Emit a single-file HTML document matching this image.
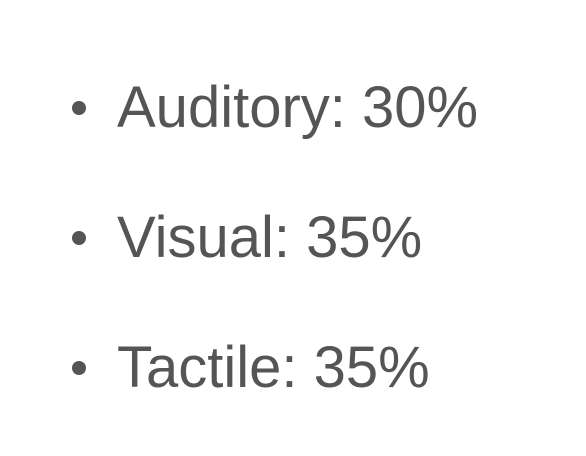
<!DOCTYPE html>
<html><head><meta charset="utf-8"><style>
html,body{margin:0;padding:0;background:#fff;}
svg{display:block;}
text{font-family:"Liberation Sans",Arial,sans-serif;font-size:58px;fill:#555;}
</style></head><body>
<svg width="586" height="456">
<g id="list"></g>
</svg>
<script>
var labels=["Auditory","Visual","Tactile"];
var values=[30,35,35];
var g=document.getElementById('list');
var ns="http://www.w3.org/2000/svg";
for(var i=0;i<labels.length;i++){
  var y=127+i*130;
  var c=document.createElementNS(ns,'circle');
  
  
  c.setAttribute('cx',79);c.setAttribute('cy',y-19);c.setAttribute('r',7);c.setAttribute('fill','#555');
  g.appendChild(c);
  var t=document.createElementNS(ns,'text');
  
  
  t.setAttribute('x',117);t.setAttribute('y',y);
  t.textContent=labels[i]+': '+values[i]+'%';
  g.appendChild(t);
}
</script>
</body></html>
